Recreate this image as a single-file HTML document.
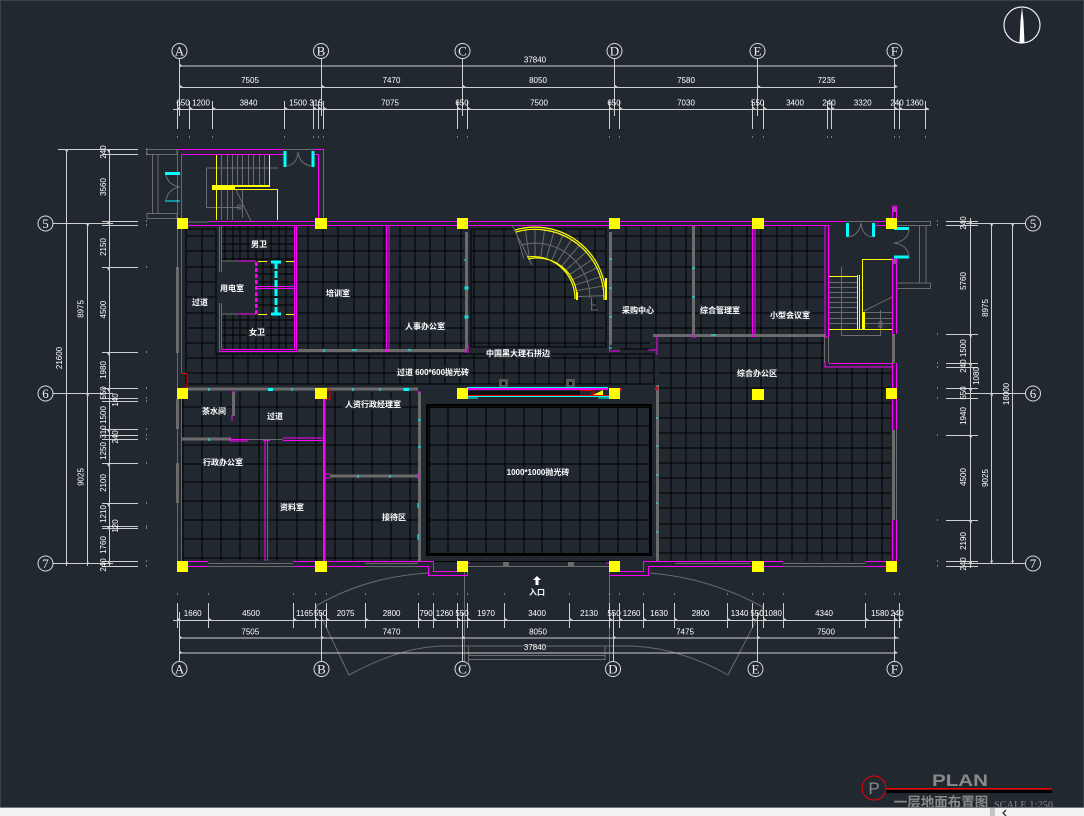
<!DOCTYPE html>
<html><head><meta charset="utf-8"><style>
html,body{margin:0;padding:0;background:#212830}
svg{display:block}
.d{font:8px "Liberation Sans","DejaVu Sans",sans-serif;fill:#fff;text-anchor:middle}
.a{font:13px "Liberation Serif",serif;fill:#eee;text-anchor:middle}
.l{font:bold 8px "Liberation Sans","Noto Sans CJK SC",sans-serif;fill:#fff;text-anchor:middle;paint-order:stroke;stroke:#212830;stroke-width:3px}
</style></head><body>
<svg width="1084" height="816" viewBox="0 0 1084 816" xmlns="http://www.w3.org/2000/svg" fill="none">
<rect width="1084" height="816" fill="#212830"/>
<rect x=".5" y=".5" width="1083" height="815" stroke="#3c424a"/>

<g shape-rendering="crispEdges">
<!-- floor grids -->
<path stroke="#000" stroke-width="1" d="
M308 226V349M323 226V349M338 226V349M354 226V349M369 226V349M384 226V349M400 226V349M415 226V349M430 226V349M445 226V349M461 226V349
M297 236H465M297 251H465M297 267H465M297 282H465M297 297H465M297 313H465M297 328H465M297 343H465
M186 229H216V354M186 229V384M202 229V354M187 236H215M187 251H215M187 267H215M187 282H215M187 297H215M187 313H215M187 328H215M187 343H215
M216 354H654V384H186M187 358H654M187 373H654
M202 354V384M217 354V384M233 354V384M248 354V384M263 354V384M278 354V384M293 354V384M308 354V384M323 354V384M338 354V384M354 354V384M369 354V384M384 354V384M400 354V384M415 354V384M430 354V384M445 354V384M460 354V384M474 354V384M489 354V384M504 354V384M519 354V384M535 354V384M549 354V384M565 354V384M580 354V384M595 354V384M610 354V384M626 354V384M640 354V384
M471 229H606V347H471ZM474 230V347M489 230V347M504 230V347M519 230V347M535 230V347M549 230V347M565 230V347M580 230V347M595 230V347
M472 236H605M472 251H605M472 267H605M472 282H605M472 297H605M472 313H605M472 328H605M472 343H605
M626 226V349M641 226V349M656 226V335M671 226V335M686 226V335M701 226V335M716 226V335M731 226V335M747 226V335M761 226V335M777 226V335M792 226V335M807 226V335
M612 236H824M612 251H824M612 267H824M612 282H824M612 297H824M612 313H824M612 328H824M612 343H650M620 349H650
M671 337V561M686 337V561M701 337V561M716 337V561M731 337V561M747 337V561M761 337V561M777 337V561M792 337V561M807 337V561M822 337V561M837 367V561M852 367V561M867 367V561M882 367V561
M659 343H825M659 358H825M659 373H891M659 388H891M659 403H891M659 418H891M659 433H891M659 448H891M659 463H891M659 478H891M659 493H891M659 508H891M659 524H891M659 538H891M659 553H891
M183 392V561M202 392V561M221 392V561M240 392V561M259 392V561M277 392V561M297 392V561M316 392V561M335 392V561M353 392V561M372 392V561M391 392V561M410 392V561
M182 407H418M182 426H418M182 445H418M182 464H418M182 482H418M182 501H418M182 520H418M182 539H418M182 558H418
M429 406V554M448 406V554M467 406V554M486 406V554M505 406V554M524 406V554M542 406V554M561 406V554M580 406V554M599 406V554M618 406V554M637 406V554
M428 407H650M428 426H650M428 445H650M428 464H650M428 482H650M428 501H650M428 520H650M428 539H650
M225 226V261M233 226V261M240 226V261M248 226V261M256 226V261M263 226V261M271 226V261M279 226V261M286 226V261
M222 229H294M222 236H294M222 244H294M222 251H294M222 259H294
M225 315V350M233 315V350M240 315V350M248 315V350M256 315V350M263 315V350M271 315V350M279 315V350M286 315V350
M222 320H294M222 328H294M222 335H294M222 343H294
M263 262V314M271 262V314M286 262V314M258 267H294M258 274H294M258 282H294M258 297H294M258 305H294"/>
<path stroke="#000" stroke-width="2" d="M427 405H651V555H427Z"/>
<path stroke="#000" d="M429.500 407.500H649.500V553.500H429.500ZM433 561.500H612"/>

<!-- gray walls -->
<path stroke="#6b6b6b" d="M147 149.500H177V154.500H147ZM152.500 154.500V213.500M158 154.500V213.500M147 213.500H177V218.500H147Z
M284 149.500H313M181.500 173V202M188 222H209
M206.500 168H278M206.500 168V207.500H240M242.500 190V218M221.500 154V185M227.500 154V185M232.500 154V185M237.500 154V185M242.500 154V185M248.500 154V185M253.500 154V185M259.500 154V185M264.500 154V185M221.500 190V220M227.500 190V220M232.500 190V220
M846 221.500H874M896 221.500H930.500V225.500H896M919.500 225.500V283M926 225.500V283M896 283H930.500V288.500H896
M829 282.500H857M829 287.500H857M829 292.500H857M829 297.500H857M829 302.500H857M829 307.500H857M829 312.500H857M829 318.500H857M829 323.500H857M865 312.500H892M865 318.500H892M865 323.500H892
M841.500 267V335.500H880.500V310M824.500 337V363M828.500 337V363
M208 563.500H293M208 566.500H293M365 563.500H418M365 566.500H418M675 563.500H750M675 566.500H750M783 563.500H865M783 566.500H865
M468 566.500H609M464.500 572V662M468.500 646V668M609.500 575V662M605 646V660M468 655.500H605M468 659.500H605M468 646H605
M591.500 297V310H598M591 305H596
M222 261H238M222 314H238"/>
<path stroke="#6b6b6b" stroke-width="3" d="M177.500 267V353M177.500 399V429M177.500 463V503M298 350.500H467M466.500 232V349M610.500 232V345M657.500 385V561M653 335.500H826M693.500 226V335M893.500 334V363M893.500 430V520M188 389H418M233.500 392V416M182 439H231M330 476H418M419.500 392V561"/>
<path stroke="#6b6b6b" d="M248 439.500H283M181.500 267V353M181.500 399V429M181.500 463V503M896.500 430V520"/>
<path fill="#6b6b6b" d="M503 562h6v5h-6zM568 562h6v5h-6zM893 207h3v5h-3zM893 259h3v5h-3z"/>
<path fill="#555" d="M499 379h9v9h-9zM566 379h9v9h-9z"/>
<path fill="#000" d="M502 382h3v3h-3zM569 382h3v3h-3z"/>

<!-- yellow stairs -->
<path stroke="#ff0" d="M216.500 154V185M269.500 154V185M216.500 190V220M235 189.500H277.500V220M862.500 330V259.500H892M829 276.500H858M829 329.500H892M857.500 275V330M859.500 275V330"/>
<path stroke="#ff0" stroke-dasharray="9 5" d="M258 261.500H294M258 314.500H294"/>
<path fill="#ff0" d="M212 185h58v2h-58zM212 187h23v3h-23zM862 312h3v18h-3z"/>

<!-- magenta walls -->
<path stroke="#f0f" d="M177.500 149.500H284M313 149.500H323.500V220M181.500 154.500H284M313 154.500H318.500V218M177.500 149.500V218M181.500 154.500V218
M209 221.500H846M188 225.500H828M874 221.500H886M874 225.500H886
M177.500 218V267M181.500 218V267M177.500 353V388M181.500 353V373M177.500 429V463M181.500 429V463M177.500 503V561M181.500 503V561
M219.500 225V272M221.500 225V272M219.500 303V351.500H298M221.500 303V349.500H294M294.500 225V350M296.500 225V351
M238 261H256M238 314H256M257 286.500H294M257 288.500H294
M386.500 225V350M389 225V350M384 351.500H390M465 350V352H468V345
M609.500 345V351H620M648 350H657V335M657 350V355
M693 333V337H696M752.500 229V335M755 229V335M752 336.500H756M825 225V337H828.500V225M825 361V367H892M829 363.500H892
M892.500 206V218M896.500 206V218M892.500 206H896.500M892.500 258V334M896.500 258V334M892.500 363V388M896.500 363V388
M892.500 399V430M896.500 399V430M892.500 520V561M896.500 520V561
M232 392H236M232 415V421M231 439.500H248M230 437V441H248M283 438H324M283 440.500H324M265 440V561M267.500 440V561M263 440.500H270
M324 474H330M324 478H330M418 473V479M417 392H421
M188 561.500H208M188 566.500H208M293 561.500H365M293 566.500H365
M365 561.500H433.500V571.500H457M418 566.500H428.500V575.500H467.500V570
M609.500 570V575.500H648.500V566.500H750M620 571.500H643.500V561.500H750M750 561.500H783M750 566.500H783M865 561.500H886M865 566.500H886
M467 563H470M606 563H609"/>
<path stroke="#f0f" stroke-width="2.500" d="M324 399V561"/>
<path stroke="#f0f" stroke-width="2.500" stroke-dasharray="4 2" d="M256 262V314"/>
<path stroke="#f0f" stroke-width="2" d="M468 389H608"/>

<!-- cyan -->
<path stroke="#0ff" stroke-width="3" d="M285 151V167M313 151V167M847.500 223V237M873.500 223V237"/>
<path stroke="#0ff" stroke-width="3" stroke-dasharray="7 2" d="M276 262V314"/>
<path stroke="#0ff" stroke-width="3" d="M165 173.500H180M894 228.700H909M894 257H909M271 262H281M271 314H281"/>
<path stroke="#0ff" d="M165 201H180M467 387.500H608M467 396.500H610M467 398H478M598 398H609
M268 389H272M209 388V391M292 388V391M353 388V391M380 388V391M404 388V391M465 259V261M465 287H468V289H465ZM465 316H468V318H465ZM609 259H612M609 288H612M609 317H612
M324 349V352M352 350H357M408 350H411M711 335H716M692 268H695M692 297H695M609 348H612
M358 475V478M390 475V478M418 420H421M418 447H421M418 503V508M418 534V540M656 418H658M656 446H658M656 475H658M656 503H658M656 532H658M209 438V441"/>
<path fill="#0ff" d="M268 388h5v3h-5zM404 388h5v3h-5z"/>

<!-- hall lintel reds -->
<path fill="#111" d="M468 391h112v4H468z"/>
<path stroke="#e00" d="M467 395.500H610M580 390.500H592V395M594 390V395M181.500 373.500H187V388H181.500M326 389H330V399H326Z"/>
<path fill="#ff0" d="M593 395l10-5v5z"/>
<path fill="#e00" d="M619 388h3v3h-3zM655 387h3v3h-3z"/>
</g>

<!-- curved stair -->
<path stroke="#212830" stroke-width="30" d="M521 244A55 55 0 0 1 590 298"/>
<g stroke="#6b6b6b">
<line x1="576" y1="298" x2="604" y2="298" transform="rotate(-2 535 298)"/>
<line x1="576" y1="298" x2="604" y2="298" transform="rotate(-10 535 298)"/>
<line x1="576" y1="298" x2="604" y2="298" transform="rotate(-18 535 298)"/>
<line x1="576" y1="298" x2="604" y2="298" transform="rotate(-26 535 298)"/>
<line x1="576" y1="298" x2="604" y2="298" transform="rotate(-34 535 298)"/>
<line x1="576" y1="298" x2="604" y2="298" transform="rotate(-42 535 298)"/>
<line x1="576" y1="298" x2="604" y2="298" transform="rotate(-50 535 298)"/>
<line x1="576" y1="298" x2="604" y2="298" transform="rotate(-58 535 298)"/>
<line x1="576" y1="298" x2="604" y2="298" transform="rotate(-66 535 298)"/>
<line x1="576" y1="298" x2="604" y2="298" transform="rotate(-74 535 298)"/>
<line x1="576" y1="298" x2="604" y2="298" transform="rotate(-82 535 298)"/>
<line x1="576" y1="298" x2="604" y2="298" transform="rotate(-90 535 298)"/>
<line x1="576" y1="298" x2="604" y2="298" transform="rotate(-98 535 298)"/>
<line x1="576" y1="298" x2="604" y2="298" transform="rotate(-106 535 298)"/>
<path d="M521 245A55 55 0 0 1 590 298M512 225L532 265"/>
</g>
<path stroke="#ff0" stroke-width="1.200" d="M515 230A71 71 0 0 1 606 300M516 232A69 69 0 0 1 604 300V300M528 259A40 40 0 0 1 577 299M527 257A42 42 0 0 1 575 299"/>
<path stroke="#ff0" stroke-width="2" d="M606 278V300M577 292V300"/>

<!-- door arcs, diagonals, entrance canopy -->
<path stroke="#6b6b6b" d="M286 166Q297 165 298 152M312 166Q300 165 298 152M166 175Q168 185 180 187M166 200Q168 189 180 187M847 237Q859 236 861 223M873 237Q862 236 861 223M909 229Q908 241 894 243M909 257Q908 245 894 243M236 190L251 221M864 311L892 297M238 205h3v4h-3zM879 322h3v5h-3z"/>
<path stroke="#6b6b6b" d="M428 573Q365 577 316 606L349 675Q400 647 443 646H632Q680 648 728 675L763 607Q710 578 650 573"/>

<!-- columns -->
<path fill="#ff0" d="M177 218h11v11h-11zM315 218h12v11h-12zM457 218h11v11h-11zM609 218h11v11h-11zM752 218h12v11h-12zM886 218h11v11h-11z
M177 388h11v11h-11zM315 388h12v11h-12zM457 388h11v11h-11zM609 388h11v11h-11zM752 389h12v11h-12zM886 388h11v11h-11z
M177 561h11v11h-11zM315 561h12v11h-12zM457 561h11v11h-11zM609 561h11v11h-11zM752 561h12v11h-12zM886 561h11v11h-11z"/>

<!-- dimension lines -->
<g stroke="#cfcfcf" shape-rendering="crispEdges">
<path d="M179.500 66H894.500M179.500 87.500H894.500M173 109.500H929
M179.500 58V116M321.500 58V116M462.500 58V116M614.500 58V116M757.500 58V116M894.500 58V129
M177.500 101V129M189.500 101V129M212.500 101V129M284.500 101V129M313.500 101V129M318.500 101V129M323.500 101V129M457.500 101V129M467.500 101V129M609.500 101V129M619.500 101V129M752.500 101V129M763.500 101V129M827.500 101V129M831.500 101V129M899.500 101V129M925.500 101V129
M173 620.500H902M179.500 638H899M179.500 653H894.500
M179.500 612V661M321.500 612V661M462.500 612V661M613.500 612V661M757.500 612V661M894.500 612V661
M177.500 603V628M208.500 603V628M293.500 603V628M315.500 603V628M326.500 603V628M365.500 603V628M418.500 603V628M433.500 603V628M457.500 603V628M467.500 603V628M504.500 603V628M569.500 603V628M609.500 603V628M619.500 603V628M643.500 603V628M674.500 603V628M727.500 603V628M752.500 603V628M763.500 603V628M783.500 603V628M865.500 603V628M899.500 603V628
M66.500 149V566M87.500 223V566M109.500 149V566
M53 223.500H113M53 393.500H113M53 563.500H113
M58 149.500H138M102 154.500H138M102 221.500H138M102 225.500H138M102 267.500H138M102 352.500H138M102 388.500H138M102 398.500H138M102 401.500H138M102 429.500H138M102 435.500H138M102 439.500H138M102 463.500H138M102 503.500H138M102 526.500H138M102 528.500H138M102 561.500H138M102 566.500H138
M970.500 218V568M991.500 223V564M1012.500 223V564
M966 223.500H1025M966 393.500H1025M966 563.500H1025
M946 221.500H978M946 225.500H978M946 334.500H978M946 363.500H978M946 367.500H978M946 388.500H978M946 398.500H978M946 435.500H978M946 520.500H978M946 561.500H978M946 566.500H978"/>
<path stroke-width="1" d="M177 137h1M189 137h1M212 137h1M284 137h1M313 137h1M318 137h1M323 137h1M457 137h1M467 137h1M609 137h1M619 137h1M752 137h1M763 137h1M827 137h1M831 137h1M894 137h1M899 137h1M925 137h1
M177 594h1M208 594h1M293 594h1M315 594h1M326 594h1M365 594h1M418 594h1M433 594h1M457 594h1M467 594h1M504 594h1M569 594h1M609 594h1M619 594h1M643 594h1M674 594h1M727 594h1M752 594h1M763 594h1M783 594h1M865 594h1M894 594h1M899 594h1
M146 149h1M146 154h1M146 221h1M146 225h1M146 267h1M146 352h1M146 388h1M146 398h1M146 401h1M146 429h1M146 435h1M146 439h1M146 463h1M146 503h1M146 526h1M146 528h1M146 561h1M146 566h1
M937 221h1M937 225h1M937 334h1M937 363h1M937 367h1M937 388h1M937 398h1M937 435h1M937 520h1M937 561h1M937 566h1"/>
</g>
<!-- dim arrow ticks -->
<path fill="#cfcfcf" d="M180 64l3 2-3 1zM180 85l3 2-3 1zM322 85l3 2-3 1zM463 85l3 2-3 1zM615 85l3 2-3 1zM758 85l3 2-3 1zM895 64l3 2-3 1zM895 85l3 2-3 1z
M178 107l3 2-3 1zM190 107l3 2-3 1zM213 107l3 2-3 1zM285 107l3 2-3 1zM314 107l3 2-3 1zM319 107l3 2-3 1zM324 107l3 2-3 1zM458 107l3 2-3 1zM468 107l3 2-3 1zM610 107l3 2-3 1zM620 107l3 2-3 1zM753 107l3 2-3 1zM764 107l3 2-3 1zM828 107l3 2-3 1zM832 107l3 2-3 1zM895 107l3 2-3 1zM900 107l3 2-3 1zM926 107l3 2-3 1z
M178 618l3 2-3 1zM209 618l3 2-3 1zM294 618l3 2-3 1zM316 618l3 2-3 1zM327 618l3 2-3 1zM366 618l3 2-3 1zM419 618l3 2-3 1zM434 618l3 2-3 1zM458 618l3 2-3 1zM468 618l3 2-3 1zM505 618l3 2-3 1zM570 618l3 2-3 1zM610 618l3 2-3 1zM620 618l3 2-3 1zM644 618l3 2-3 1zM675 618l3 2-3 1zM728 618l3 2-3 1zM753 618l3 2-3 1zM764 618l3 2-3 1zM784 618l3 2-3 1zM866 618l3 2-3 1zM895 618l3 2-3 1zM900 618l3 2-3 1z
M180 636l3 2-3 1zM322 636l3 2-3 1zM463 636l3 2-3 1zM614 636l3 2-3 1zM758 636l3 2-3 1zM895 636l3 2-3 1zM180 651l3 2-3 1zM895 651l3 2-3 1z
M65 150l2 3 1-3zM107 150l2 3 1-3zM86 224l2 3 1-3zM65 564l2-3 1 3zM86 564l2-3 1 3zM107 564l2-3 1 3zM86 394l2 3 1-3zM107 222l2 3 1-3zM107 268l2 3 1-3zM107 353l2 3 1-3zM107 389l2 3 1-3zM107 430l2 3 1-3zM107 464l2 3 1-3zM107 504l2 3 1-3zM107 527l2 3 1-3z
M969 222l2 3 1-3zM969 335l2 3 1-3zM969 364l2 3 1-3zM969 389l2 3 1-3zM969 436l2 3 1-3zM969 521l2 3 1-3zM969 562l2 3 1-3zM990 224l2 3 1-3zM990 394l2 3 1-3zM990 562l2-3 1 3zM1011 224l2 3 1-3zM1011 562l2-3 1 3z"/>

<!-- axis circles -->
<g stroke="#dcdcdc" fill="#212830">
<circle cx="179.500" cy="51" r="7.500"/><circle cx="321" cy="51" r="7.500"/><circle cx="462.500" cy="51" r="7.500"/><circle cx="614.500" cy="51" r="7.500"/><circle cx="757.500" cy="51" r="7.500"/><circle cx="894.500" cy="51" r="7.500"/>
<circle cx="179.500" cy="669" r="7.500"/><circle cx="321.500" cy="669" r="7.500"/><circle cx="462.500" cy="669" r="7.500"/><circle cx="613" cy="669" r="7.500"/><circle cx="755.500" cy="669" r="7.500"/><circle cx="894.500" cy="669" r="7.500"/>
<circle cx="45.500" cy="223.500" r="7.500"/><circle cx="45.500" cy="393.500" r="7.500"/><circle cx="45.500" cy="563.500" r="7.500"/>
<circle cx="1033" cy="223.500" r="7.500"/><circle cx="1033" cy="393.500" r="7.500"/><circle cx="1033" cy="563.500" r="7.500"/>
</g>
<text class="a" x="179.500" y="55.500">A</text><text class="a" x="321" y="55.500">B</text><text class="a" x="462.500" y="55.500">C</text><text class="a" x="614.500" y="55.500">D</text><text class="a" x="757.500" y="55.500">E</text><text class="a" x="894.500" y="55.500">F</text>
<text class="a" x="179.500" y="673.500">A</text><text class="a" x="321.500" y="673.500">B</text><text class="a" x="462.500" y="673.500">C</text><text class="a" x="613" y="673.500">D</text><text class="a" x="755.500" y="673.500">E</text><text class="a" x="894.500" y="673.500">F</text>
<text class="a" x="45.500" y="228">5</text><text class="a" x="45.500" y="398">6</text><text class="a" x="45.500" y="568">7</text>
<text class="a" x="1033" y="228">5</text><text class="a" x="1033" y="398">6</text><text class="a" x="1033" y="568">7</text>

<!-- dim text -->
<g class="d">
<text class="d" x="535" y="62.500">37840</text>
<text class="d" x="250" y="83">7505</text><text class="d" x="391.500" y="83">7470</text><text class="d" x="538" y="83">8050</text><text class="d" x="686" y="83">7580</text><text class="d" x="826.500" y="83">7235</text>
<text class="d" x="183" y="105.500">650</text><text class="d" x="201" y="105.500">1200</text><text class="d" x="248.500" y="105.500">3840</text><text class="d" x="298" y="105.500">1500</text><text class="d" x="316" y="105.500">315</text><text class="d" x="390" y="105.500">7075</text><text class="d" x="462" y="105.500">650</text><text class="d" x="539" y="105.500">7500</text><text class="d" x="614" y="105.500">650</text><text class="d" x="686" y="105.500">7030</text><text class="d" x="757.700" y="105.500">550</text><text class="d" x="795" y="105.500">3400</text><text class="d" x="829" y="105.500">240</text><text class="d" x="862.700" y="105.500">3320</text><text class="d" x="897" y="105.500">240</text><text class="d" x="914.700" y="105.500">1360</text>
<text class="d" x="192.700" y="616">1660</text><text class="d" x="251" y="616">4500</text><text class="d" x="304.600" y="616">1165</text><text class="d" x="320.600" y="616">550</text><text class="d" x="345.600" y="616">2075</text><text class="d" x="391.600" y="616">2800</text><text class="d" x="426" y="616">790</text><text class="d" x="444.600" y="616">1260</text><text class="d" x="462" y="616">550</text><text class="d" x="486" y="616">1970</text><text class="d" x="537" y="616">3400</text><text class="d" x="589" y="616">2130</text><text class="d" x="614" y="616">550</text><text class="d" x="631.600" y="616">1260</text><text class="d" x="659" y="616">1630</text><text class="d" x="700.600" y="616">2800</text><text class="d" x="739.600" y="616">1340</text><text class="d" x="757" y="616">550</text><text class="d" x="773" y="616">1080</text><text class="d" x="824" y="616">4340</text><text class="d" x="880" y="616">1580</text><text class="d" x="897" y="616">240</text>
<text class="d" x="250.300" y="634.700">7505</text><text class="d" x="391.500" y="634.700">7470</text><text class="d" x="538" y="634.700">8050</text><text class="d" x="685" y="634.700">7475</text><text class="d" x="826" y="634.700">7500</text>
<text class="d" x="535" y="650">37840</text>
<text class="d" transform="translate(106 152) rotate(-90)">240</text><text class="d" transform="translate(106 187) rotate(-90)">3560</text><text class="d" transform="translate(106 247) rotate(-90)">2150</text><text class="d" transform="translate(106 309.600) rotate(-90)">4500</text><text class="d" transform="translate(106 370) rotate(-90)">1980</text><text class="d" transform="translate(106 393) rotate(-90)">550</text><text class="d" transform="translate(118 400) rotate(-90)">140</text><text class="d" transform="translate(106 415) rotate(-90)">1500</text><text class="d" transform="translate(106 432) rotate(-90)">310</text><text class="d" transform="translate(118 437) rotate(-90)">240</text><text class="d" transform="translate(106 451) rotate(-90)">1250</text><text class="d" transform="translate(106 483) rotate(-90)">2100</text><text class="d" transform="translate(106 514) rotate(-90)">1210</text><text class="d" transform="translate(118 526) rotate(-90)">120</text><text class="d" transform="translate(106 545) rotate(-90)">1760</text><text class="d" transform="translate(106 565) rotate(-90)">240</text>
<text class="d" transform="translate(83.500 309) rotate(-90)">8975</text><text class="d" transform="translate(83.500 477) rotate(-90)">9025</text><text class="d" transform="translate(62 358) rotate(-90)">21600</text>
<text class="d" transform="translate(966 223) rotate(-90)">240</text><text class="d" transform="translate(966 281) rotate(-90)">5760</text><text class="d" transform="translate(966 356) rotate(-90)">240 1500</text><text class="d" transform="translate(966 393) rotate(-90)">550</text><text class="d" transform="translate(966 416) rotate(-90)">1940</text><text class="d" transform="translate(966 477) rotate(-90)">4500</text><text class="d" transform="translate(966 541) rotate(-90)">2190</text><text class="d" transform="translate(966 564) rotate(-90)">240</text>
<text class="d" transform="translate(979 376) rotate(-90)">1080</text><text class="d" transform="translate(988 308) rotate(-90)">8975</text><text class="d" transform="translate(988 478) rotate(-90)">9025</text><text class="d" transform="translate(1009 394) rotate(-90)">18000</text>
</g>

<!-- room labels -->
<text class="l" x="200" y="305">过道</text>
<text class="l" x="259" y="247">男卫</text>
<text class="l" x="232" y="291">用电室</text>
<text class="l" x="338" y="296">培训室</text>
<text class="l" x="257" y="335">女卫</text>
<text class="l" x="425" y="329">人事办公室</text>
<text class="l" x="433" y="375">过道 600*600抛光砖</text>
<text class="l" x="518" y="356">中国黑大理石拼边</text>
<text class="l" x="638" y="313">采购中心</text>
<text class="l" x="720" y="313">综合管理室</text>
<text class="l" x="790" y="318">小型会议室</text>
<text class="l" x="757" y="376">综合办公区</text>
<text class="l" x="214" y="414">茶水间</text>
<text class="l" x="275" y="419">过道</text>
<text class="l" x="373" y="407">人资行政经理室</text>
<text class="l" x="223" y="465">行政办公室</text>
<text class="l" x="292" y="510">资料室</text>
<text class="l" x="394" y="520">接待区</text>
<text class="l" x="538" y="475">1000*1000抛光砖</text>
<text class="l" x="537" y="595" style="stroke:none">入口</text>
<path fill="#fff" d="M537 576l4 4h-2.500v5h-3v-5H533z"/>

<!-- compass -->
<circle cx="1022" cy="25" r="18" stroke="#eee" stroke-width="1.200"/>
<path fill="#fff" d="M1022 7l1.500 14 1 22h-5l1-22z"/>

<!-- title block -->
<circle cx="874" cy="788" r="12" stroke="#e00" stroke-width="1"/>
<text x="874" y="794" style="font:17px 'Liberation Sans',sans-serif;fill:#8a8a8a;text-anchor:middle">P</text>
<rect x="886" y="790" width="166" height="3" fill="#000"/>
<rect x="886" y="788" width="166" height="1.500" fill="#e00"/>
<text x="960" y="786" style="font:bold 17px 'Liberation Sans',sans-serif;fill:#8a8a8a;text-anchor:middle" textLength="56" lengthAdjust="spacingAndGlyphs">PLAN</text>
<text x="941" y="807" style="font:bold 13.500px 'Liberation Sans','Noto Sans CJK SC',sans-serif;fill:#8a8a8a;text-anchor:middle">一层地面布置图</text>
<text x="994" y="808" style="font:10px 'Liberation Serif',serif;fill:#8a8a8a" textLength="59">SCALE 1:250</text>

<!-- bottom bar -->
<rect x="0" y="807" width="1084" height="1" fill="#777"/>
<rect x="0" y="808" width="1084" height="8" fill="#f2f2f2"/>
<rect x="990" y="808" width="5" height="8" fill="#c4c4c4"/>
<path stroke="#333" stroke-width="1.300" d="M1006 810l-3 3 3 3"/>
</svg>
</body></html>
